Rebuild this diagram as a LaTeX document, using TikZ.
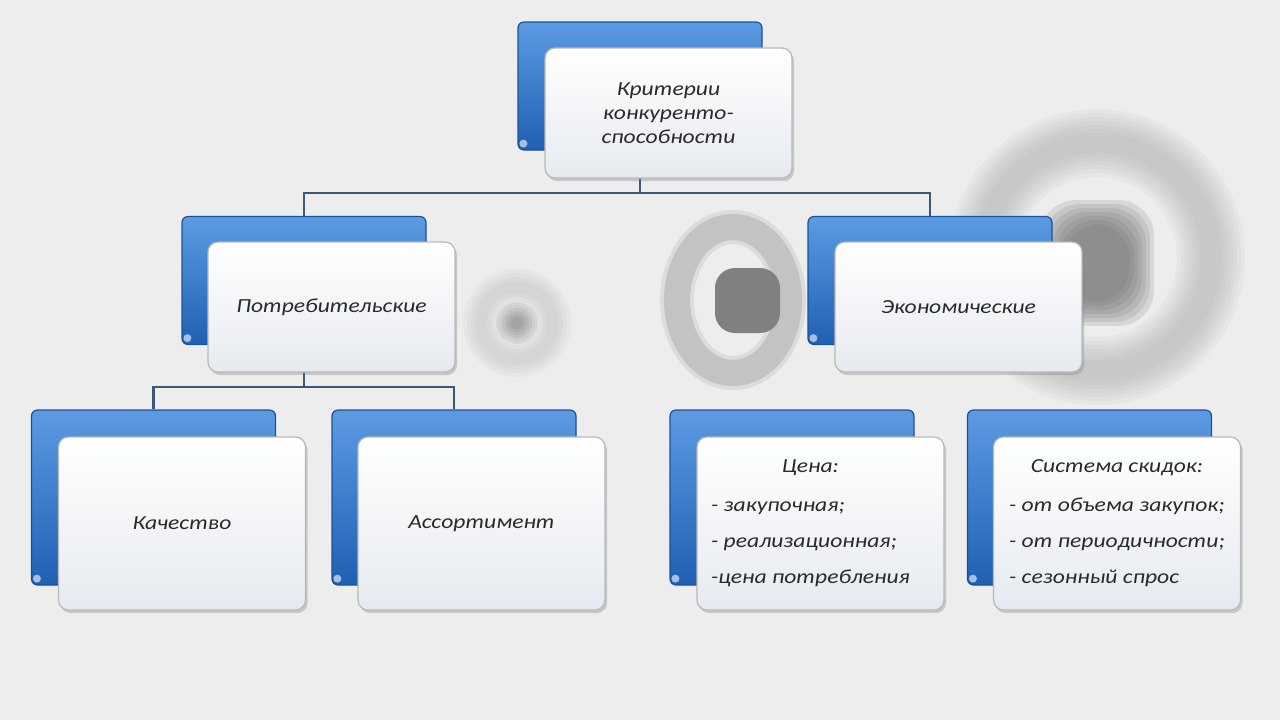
\documentclass[tikz,border=0pt]{standalone}
\usepackage{fontspec}
\setmainfont{Carlito}[FakeStretch=1.18]
\usetikzlibrary{shadows}
\definecolor{bgcol}{HTML}{EDEDED}
\definecolor{linkcol}{HTML}{3B5878}
\definecolor{bluetop}{HTML}{5C9BE2}
\definecolor{bluebot}{HTML}{1F60B4}
\definecolor{frontbot}{HTML}{E6EAF0}
\definecolor{ringcol}{HTML}{A0A0A0}
\definecolor{coregray}{HTML}{6A6A6A}
\definecolor{textcol}{HTML}{2A2A2A}
\tikzset{
  backbox/.style={rectangle, rounded corners=3pt, minimum width=122pt, minimum height=64pt,
    top color=bluetop, bottom color=bluebot, draw=bluebot!85!black, line width=0.6pt},
  frontbox/.style={rectangle, rounded corners=5pt, minimum width=123.5pt, minimum height=65pt,
    top color=white, bottom color=frontbot, draw=gray!55, line width=0.6pt,
    drop shadow={shadow xshift=1pt, shadow yshift=-1.5pt, opacity=0.35},
    font=\itshape, text=textcol, align=center},
  link/.style={draw=linkcol, line width=1.2pt},
}
\begin{document}
\begin{tikzpicture}[x=0.5pt, y=-0.5pt]
\useasboundingbox (0,0) rectangle (1280,720);
\fill[bgcol] (0,0) rectangle (1280,720);
% background rings
\foreach \w in {34,30,...,10}
  \draw[ringcol, line width=\w pt, opacity=0.08] (1097,257) circle[radius=114];
\foreach \k in {0,...,6}
  \fill[coregray, opacity=0.16, rounded corners=18pt] ({1064-4*\k},{224-4*\k}) rectangle ({1130+4*\k},{302+4*\k});
\draw[ringcol!55!bgcol, line width=17pt, opacity=0.4] (733,300) ellipse[x radius=56, y radius=73];
\draw[ringcol!55!bgcol, line width=13pt] (733,300) ellipse[x radius=56, y radius=73];
\fill[coregray!85!white, rounded corners=10pt] (715,268) rectangle (780,333);
\foreach \w in {18,14,...,6}
  \draw[ringcol, line width=\w pt, opacity=0.08] (517,323) circle[radius=36];
\foreach \k in {0,...,5}
  \fill[coregray, opacity=0.12] (517,323) circle[radius={6+3*\k}];
% connectors
\coordinate (bar1) at (640,193);
\coordinate (bar2) at (304,387);
\node[backbox] (critB) at (640,86) {};
\node[backbox] (potrB) at (304,280.5) {};
\node[backbox] (econB) at (930,280.5) {};
\node[backbox, minimum height=87.5pt] (kachB) at (153.5,497.5) {};
\node[backbox, minimum height=87.5pt] (assB) at (454,497.5) {};
\node[backbox, minimum height=87.5pt] (cenaB) at (792,497.5) {};
\node[backbox, minimum height=87.5pt] (skidB) at (1089.5,497.5) {};
\draw[link] (critB.south) -- (bar1) -| (potrB.north);
\draw[link] (bar1) -| (econB.north);
\draw[link] (potrB.south) -- (bar2) -| (kachB.north);
\draw[link] (bar2) -| (assB.north);
\foreach \b in {critB, potrB, econB, kachB, assB, cenaB, skidB}
  \fill[white, opacity=0.6] ([shift={(6,-7)}]\b.south west) circle[radius=4];
\node[frontbox] (crit) at (668.5,113) {Критерии\\конкуренто-\\способности};
\node[frontbox] (potr) at (331.5,307) {Потребительские};
\node[frontbox] (econ) at (958.5,307) {Экономические};
\node[frontbox, minimum height=86.5pt] (kach) at (182,523.5) {Качество};
\node[frontbox, minimum height=86.5pt] (ass) at (481.5,523.5) {Ассортимент};
\node[frontbox, minimum height=86.5pt] (cena) at (820.5,523.5)
  {\begin{tabular}{@{}l@{}}\multicolumn{1}{@{}c@{}}{Цена:}\\[7.5pt]- закупочная;\\[6pt]- реализационная;\\[6pt]-цена потребления\end{tabular}\hspace*{10pt}};
\node[frontbox, minimum height=86.5pt] (skid) at (1117,523.5)
  {\begin{tabular}{@{}l@{}}\multicolumn{1}{@{}c@{}}{Система скидок:}\\[7.5pt]- от объема закупок;\\[6pt]- от периодичности;\\[6pt]- сезонный спрос\end{tabular}};
\end{tikzpicture}
\end{document}
